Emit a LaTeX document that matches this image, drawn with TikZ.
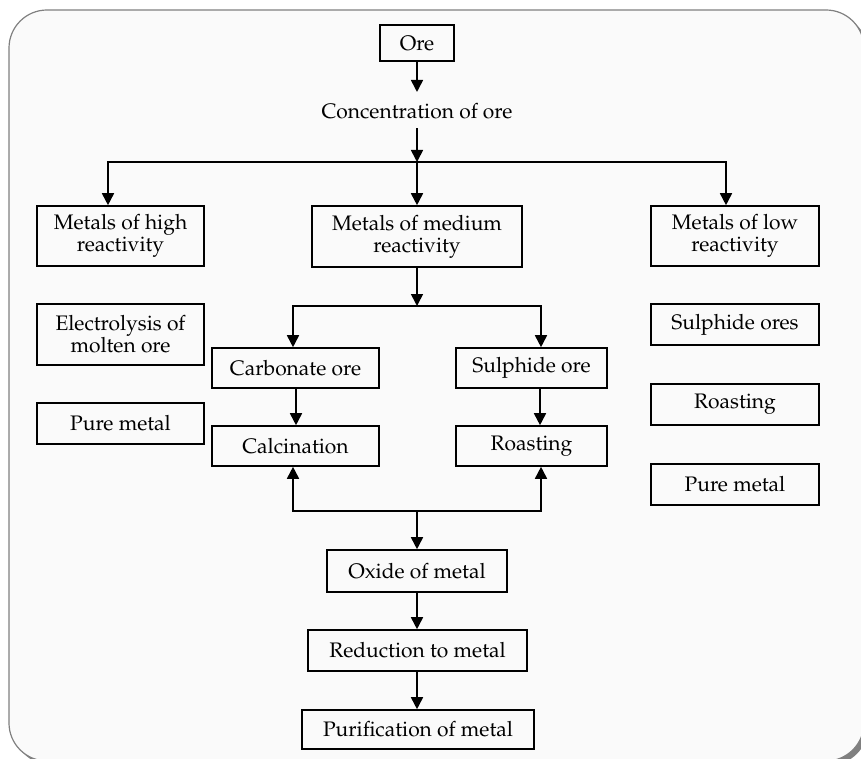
\documentclass[tikz,border=0pt]{standalone}
\usepackage[T1]{fontenc}
\renewcommand{\rmdefault}{ppl}
\usetikzlibrary{arrows.meta,calc}
\definecolor{bgpanel}{RGB}{250,250,250}
\definecolor{framegray}{RGB}{128,128,128}
\begin{document}
\begin{tikzpicture}[x=1pt,y=-1pt,
  box/.style={draw,line width=1.6pt,inner sep=0pt,align=center,font=\fontsize{21}{22}\selectfont},
  plain/.style={inner sep=0pt,align=center,font=\fontsize{21}{22}\selectfont},
  arr/.style={line width=1.7pt,-{Triangle[width=12pt,length=12pt]}},
  ln/.style={line width=1.7pt}]
\useasboundingbox (0,0) rectangle (861,759);
\begin{scope}
\clip (0,0) rectangle (861,759);
\fill[framegray, rounded corners=38pt] (13,14) rectangle (868,765);
\draw[fill=bgpanel, draw=framegray, line width=1.2pt, rounded corners=38pt] (9,10) rectangle (864,761);
\end{scope}

% nodes
\node[box, minimum width=74pt, minimum height=36pt] (ore) at (417,43) {Ore};
\node[plain] (conc) at (417,111) {Concentration of ore};
\node[box, minimum width=167pt, minimum height=60pt] (high) at (120.5,236) {Metals of high\\reactivity};
\node[box, minimum width=210pt, minimum height=61pt] (med) at (417,236.5) {Metals of medium\\reactivity};
\node[box, minimum width=168pt, minimum height=60pt] (low) at (735,236) {Metals of low\\reactivity};
\node[box, minimum width=167pt, minimum height=61pt] (elec) at (120.5,334.5) {Electrolysis of\\molten ore};
\node[box, minimum width=167pt, minimum height=41pt] (pureA) at (120.5,423.5) {Pure metal};
\node[box, minimum width=168pt, minimum height=41pt] (sulores) at (735,324.5) {Sulphide ores};
\node[box, minimum width=168pt, minimum height=41pt] (roastA) at (735,404.5) {Roasting};
\node[box, minimum width=168pt, minimum height=41pt] (pureB) at (735,484.5) {Pure metal};
\node[box, minimum width=167pt, minimum height=40pt] (carb) at (295.5,368) {Carbonate ore};
\node[box, minimum width=151pt, minimum height=40pt] (sulore) at (531.5,368) {Sulphide ore};
\node[box, minimum width=167pt, minimum height=40pt] (calc) at (295.5,446) {Calcination};
\node[box, minimum width=151pt, minimum height=40pt] (roastB) at (531.5,446) {Roasting};
\node[box, minimum width=180pt, minimum height=42pt] (oxide) at (417,571) {Oxide of metal};
\node[box, minimum width=219pt, minimum height=41pt] (reduc) at (417.5,650.5) {Reduction to metal};
\node[box, minimum width=232pt, minimum height=39pt] (purif) at (418,729.5) {Purification of metal};

\coordinate (s1) at (417,162);
\coordinate (s2) at (417,306);
\coordinate (s3) at (417,511);

% connectors
\draw[arr] (ore.south) -- ($(conc.north)+(0,-11)$);
\draw[arr] ($(conc.south)+(0,9)$) -- (s1);
\draw[ln] (s1) -| ($(high.north)+(-12.5,-30)$);
\draw[arr] ($(high.north)+(-12.5,-30)$) -- ($(high.north)+(-12.5,0)$);
\draw[ln] (s1) -| ($(low.north)+(-9,-30)$);
\draw[arr] ($(low.north)+(-9,-30)$) -- ($(low.north)+(-9,0)$);
\draw[arr] (s1) -- (med.north);

\draw[arr] (med.south) -- (s2);
\draw[ln] (s2) -| ($(carb.north)+(-2.5,-30)$);
\draw[arr] ($(carb.north)+(-2.5,-30)$) -- ($(carb.north)+(-2.5,0)$);
\draw[ln] (s2) -| ($(sulore.north)+(9.5,-30)$);
\draw[arr] ($(sulore.north)+(9.5,-30)$) -- ($(sulore.north)+(9.5,0)$);

\draw[arr] ($(carb.south)+(0.5,0)$) -- ($(calc.north)+(0.5,0)$);
\draw[arr] ($(sulore.south)+(8.5,0)$) -- ($(roastB.north)+(8.5,0)$);

\draw[ln] (s3) -| ($(calc.south)+(-2.5,30)$);
\draw[arr] ($(calc.south)+(-2.5,30)$) -- ($(calc.south)+(-2.5,0)$);
\draw[ln] (s3) -| ($(roastB.south)+(9.5,30)$);
\draw[arr] ($(roastB.south)+(9.5,30)$) -- ($(roastB.south)+(9.5,0)$);
\draw[arr] (s3) -- (oxide.north);
\draw[arr] (oxide.south) -- ($(reduc.north)+(-0.5,0)$);
\draw[arr] ($(reduc.south)+(-0.5,0)$) -- ($(purif.north)+(-1,0)$);
\end{tikzpicture}
\end{document}
